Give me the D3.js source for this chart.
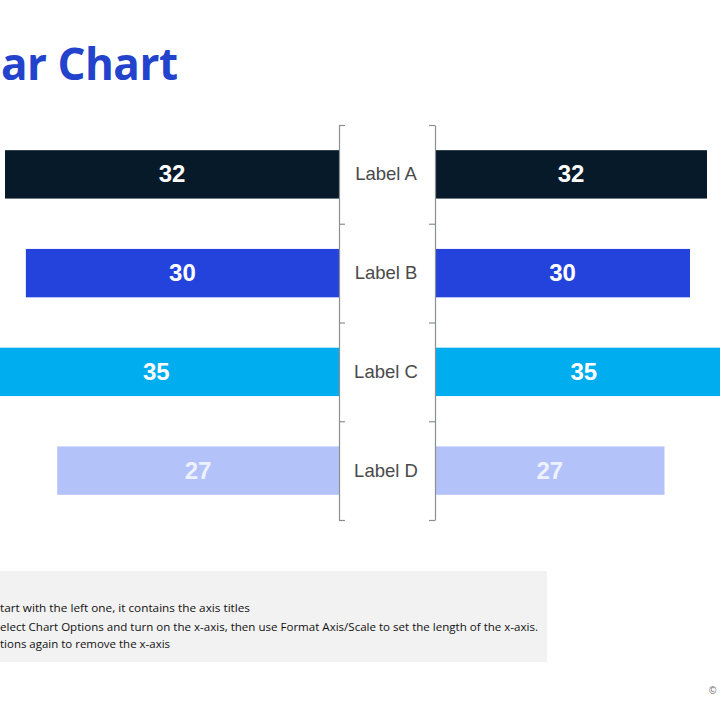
<!DOCTYPE html>
<html>
<head>
<meta charset="utf-8">
<script src="https://cdn.jsdelivr.net/npm/d3@7"></script>
<style>
  body { margin: 0; background: #fff; }
  svg { display: block; }
</style>
</head>
<body>
<div id="chart"></div>
<script>
var labels = ["Label A", "Label B", "Label C", "Label D"];
var leftValues = [32, 30, 35, 27];
var rightValues = [32, 30, 35, 27];
var barColors = ["#071a2a", "#2443dc", "#00aeef", "#b3c3fa"];
var textColors = ["#ffffff", "#ffffff", "#ffffff", "#eef2ff"];
var notes = [
  "tart with the left one, it contains the axis titles",
  "elect Chart Options and turn on the x-axis, then use Format Axis/Scale to set the length of the x-axis.",
  "tions again to remove the x-axis"
];
var noteWidths = [250, 538, 170];

var width = 720, height = 720;

var svg = d3.select("#chart")
  .append("svg")
  .attr("width", width)
  .attr("height", height);

// title (cropped slide, only "ar Chart" is visible)
svg.append("text")
  .attr("x", 1)
  .attr("y", 80)
  .attr("font-family", "Open Sans, sans-serif")
  .attr("font-weight", 700)
  .attr("font-size", 44)
  .attr("fill", "#2443cc")
  .attr("textLength", 177)
  .attr("lengthAdjust", "spacing")
  .text("ar Chart");

var y = d3.scaleBand()
  .domain(labels)
  .range([125, 520])
  .paddingInner(0.51)
  .paddingOuter(0.255);

var xLeft = d3.scaleLinear().domain([0, 32]).range([339, 5]);
var xRight = d3.scaleLinear().domain([0, 32]).range([435, 707]);

var edges = d3.scaleLinear().domain([0, labels.length]).range([125, 520]);

// left bars (mirrored)
svg.selectAll("rect.left")
  .data(labels)
  .enter()
  .append("rect")
  .attr("class", "left")
  .attr("x", function(d, i) { return xLeft(leftValues[i]); })
  .attr("y", function(d) { return y(d); })
  .attr("width", function(d, i) { return xLeft(0) - xLeft(leftValues[i]); })
  .attr("height", y.bandwidth())
  .attr("fill", function(d, i) { return barColors[i]; });

svg.selectAll("rect.right")
  .data(labels)
  .enter()
  .append("rect")
  .attr("class", "right")
  .attr("x", xRight(0))
  .attr("y", function(d) { return y(d); })
  .attr("width", function(d, i) { return xRight(rightValues[i]) - xRight(0); })
  .attr("height", y.bandwidth())
  .attr("fill", function(d, i) { return barColors[i]; });

// value labels
svg.selectAll("text.lval")
  .data(labels)
  .enter()
  .append("text")
  .attr("class", "lval")
  .attr("x", function(d, i) { return (xLeft(0) + xLeft(leftValues[i])) / 2; })
  .attr("y", function(d) { return y(d) + y.bandwidth() / 2 + 8; })
  .attr("text-anchor", "middle")
  .attr("font-family", "Liberation Sans, Arial, sans-serif")
  .attr("font-weight", 700)
  .attr("font-size", 24)
  .attr("fill", function(d, i) { return textColors[i]; })
  .text(function(d, i) { return leftValues[i]; });

svg.selectAll("text.rval")
  .data(labels)
  .enter()
  .append("text")
  .attr("class", "rval")
  .attr("x", function(d, i) { return (xRight(0) + xRight(rightValues[i])) / 2; })
  .attr("y", function(d) { return y(d) + y.bandwidth() / 2 + 8; })
  .attr("text-anchor", "middle")
  .attr("font-family", "Liberation Sans, Arial, sans-serif")
  .attr("font-weight", 700)
  .attr("font-size", 24)
  .attr("fill", function(d, i) { return textColors[i]; })
  .text(function(d, i) { return rightValues[i]; });

// axes in the middle, ticks on category boundaries
svg.append("g")
  .attr("transform", "translate(339,0)")
  .call(d3.axisRight(edges).ticks(labels.length).tickSize(6).tickSizeOuter(0).tickFormat(""));
svg.append("g")
  .attr("transform", "translate(435,0)")
  .call(d3.axisLeft(edges).ticks(labels.length).tickSize(6).tickSizeOuter(0).tickFormat(""));
svg.selectAll(".domain, .tick line").attr("stroke", "#8a8f96").attr("stroke-width", 1.2);

svg.selectAll("text.cat")
  .data(labels)
  .enter()
  .append("text")
  .attr("class", "cat")
  .attr("x", 386)
  .attr("y", function(d) { return y(d) + y.bandwidth() / 2 + 6; })
  .attr("text-anchor", "middle")
  .attr("font-family", "Liberation Sans, Arial, sans-serif")
  .attr("font-size", 18.5)
  .attr("fill", "#4a4a4a")
  .text(function(d) { return d; });

// notes box
svg.append("rect")
  .attr("x", -5)
  .attr("y", 571)
  .attr("width", 552)
  .attr("height", 91)
  .attr("fill", "#f2f2f2");

svg.selectAll("text.note")
  .data(notes)
  .enter()
  .append("text")
  .attr("class", "note")
  .attr("x", 0)
  .attr("y", function(d, i) { return [612, 631, 648][i]; })
  .attr("font-family", "Open Sans, sans-serif")
  .attr("font-size", 11.5)
  .attr("fill", "#111")
  .attr("textLength", function(d, i) { return noteWidths[i]; })
  .attr("lengthAdjust", "spacingAndGlyphs")
  .text(function(d) { return d; });

svg.append("text")
  .attr("x", 709)
  .attr("y", 694)
  .attr("font-family", "Liberation Sans, Arial, sans-serif")
  .attr("font-size", 10)
  .attr("fill", "#666")
  .text("©");
</script>
</body>
</html>
